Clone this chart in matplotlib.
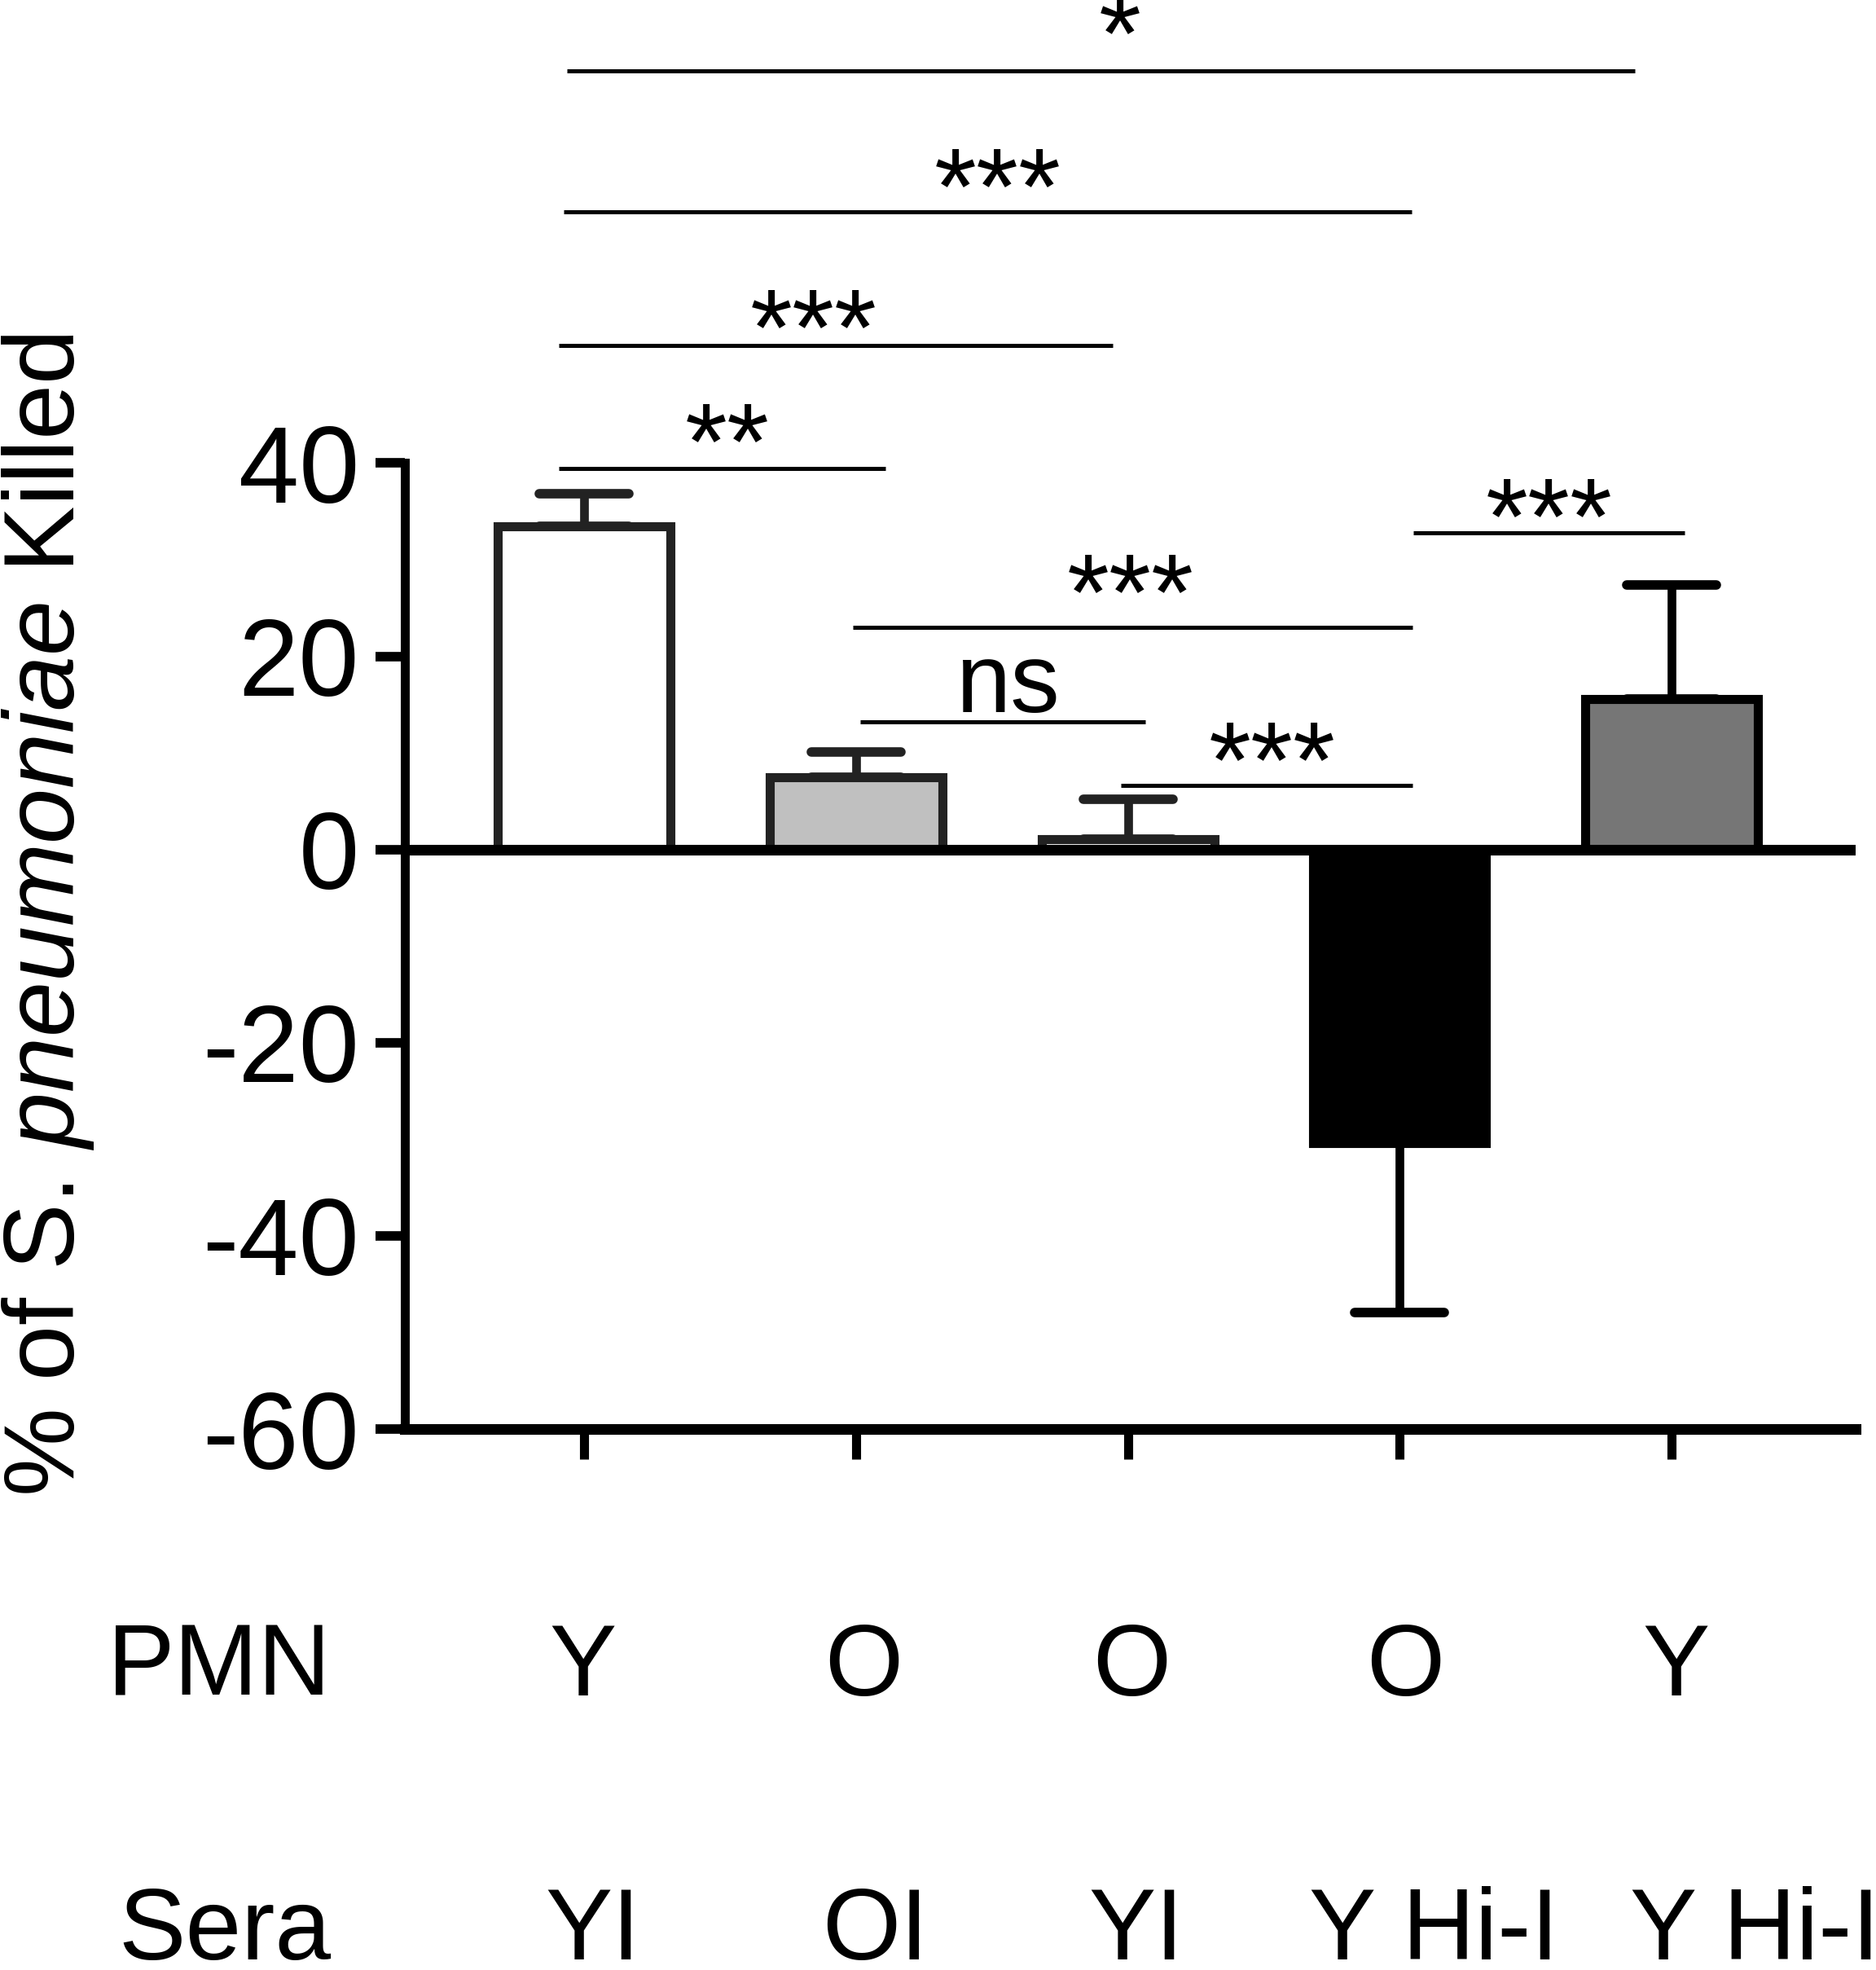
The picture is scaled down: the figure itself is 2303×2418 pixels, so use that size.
import matplotlib
matplotlib.use('Agg')
import matplotlib.pyplot as plt
from matplotlib.markers import MarkerStyle
import numpy as np

plt.rcParams['font.family'] = 'Liberation Sans'
plt.rcParams['mathtext.fontset'] = 'custom'
plt.rcParams['mathtext.rm'] = 'Liberation Sans'
plt.rcParams['mathtext.it'] = 'Liberation Sans:italic'
plt.rcParams['axes.unicode_minus'] = False

# groups
pmn = ['Y', 'O', 'O', 'O', 'Y']
sera = ['YI', 'OI', 'YI', 'Y Hi-I', 'Y Hi-I']

# % killed, mean and SEM
killed = [33.5, 7.5, 1.1, -30.4, 15.6]
sem = [3.3, 2.6, 4.1, 17.5, 11.8]

fills = ['white', '#c0c0c0', 'white', 'black', '#767676']
edges = ['#222222', '#222222', '#222222', 'black', 'black']

# significance brackets
sig_y = [80.65, 66.0, 52.15, 39.46, 32.8, 23.0, 13.2, 6.6]
sig_x0 = [-0.063, -0.075, -0.093, -0.093, 3.05, 0.989, 1.016, 1.974]
sig_x1 = [3.865, 3.044, 1.945, 1.109, 4.048, 3.047, 2.064, 3.047]
sig_txt = ['*', '***', '***', '**', '***', '***', 'ns', '***']

# where the text of each bracket sits (layout)
sig_tx = [1.97, 1.52, 0.845, 0.527, 3.55, 2.01, 1.56, 2.53]
sig_ty = [88.9, 73.0, 58.4, 46.6, 38.9, 31.0, 14.25, 13.6]
pmn_shift = [-0.006, 0.027, 0.015, 0.021, 0.015]
sera_shift = [0.033, 0.069, 0.03, 0.126, 0.306]

W, H = 2303, 2418
fig = plt.figure(figsize=(W / 100, H / 100), dpi=100)
ax = fig.add_axes([496.5 / W, 1 - 1754 / H, (2278 - 496.5) / W, (1754 - 568.5) / H])

x = np.arange(len(killed))
ax.bar(x, killed, width=0.635, color=fills, edgecolor=edges, linewidth=8, zorder=3)

for i in range(len(killed)):
    if killed[i] >= 0:
        yerr = [[0], [sem[i]]]
    else:
        yerr = [[sem[i]], [0]]
    _, caps, _ = ax.errorbar(x[i], killed[i], yerr=yerr, fmt='none', ecolor=edges[i],
                             elinewidth=7.7, capsize=39.6, capthick=8.4, zorder=2)
    for c in caps:
        c.set_marker(MarkerStyle('_', capstyle='round'))

ax.axhline(0, color='black', lw=9.4, zorder=4)

ax.set_xlim(-0.661, 4.677)
ax.set_ylim(-60, 40)
ax.spines['top'].set_visible(False)
ax.spines['right'].set_visible(False)
ax.spines['left'].set_linewidth(7.9)
ax.spines['bottom'].set_linewidth(9.4)

ax.set_yticks([-60, -40, -20, 0, 20, 40])
ax.set_yticklabels(['-60', '-40', '-20', '0', '20', '40'], fontsize=96)
ax.tick_params(axis='y', length=26, width=8.4, pad=14)
ax.set_xticks(x)
ax.set_xticklabels([])
ax.tick_params(axis='x', length=26.6, width=8)

for y, a, b, t, tx, ty in zip(sig_y, sig_x0, sig_x1, sig_txt, sig_tx, sig_ty):
    ax.hlines(y, a, b, color='black', lw=3.6, clip_on=False)
    if t == 'ns':
        ax.text(tx, ty, t, ha='center', va='baseline', fontsize=87)
    else:
        ax.text(tx, ty, t, ha='center', va='top', fontsize=96)

ax.text(-0.93, -87.56, 'PMN', ha='right', va='baseline', fontsize=89)
for i, s in enumerate(pmn):
    ax.text(x[i] + pmn_shift[i], -87.56, s, ha='center', va='baseline', fontsize=89)
ax.text(-0.93, -114.9, 'Sera', ha='right', va='baseline', fontsize=89)
for i, s in enumerate(sera):
    ax.text(x[i] + sera_shift[i], -114.9, s, ha='center', va='baseline', fontsize=89)

fig.text(91 / W, 1 - 1122.5 / H, r'% of S. $\it{pneumoniae}$ Killed', rotation=90,
         rotation_mode='anchor', ha='center', va='baseline', fontsize=88)

fig.savefig('out.png', dpi=100)
